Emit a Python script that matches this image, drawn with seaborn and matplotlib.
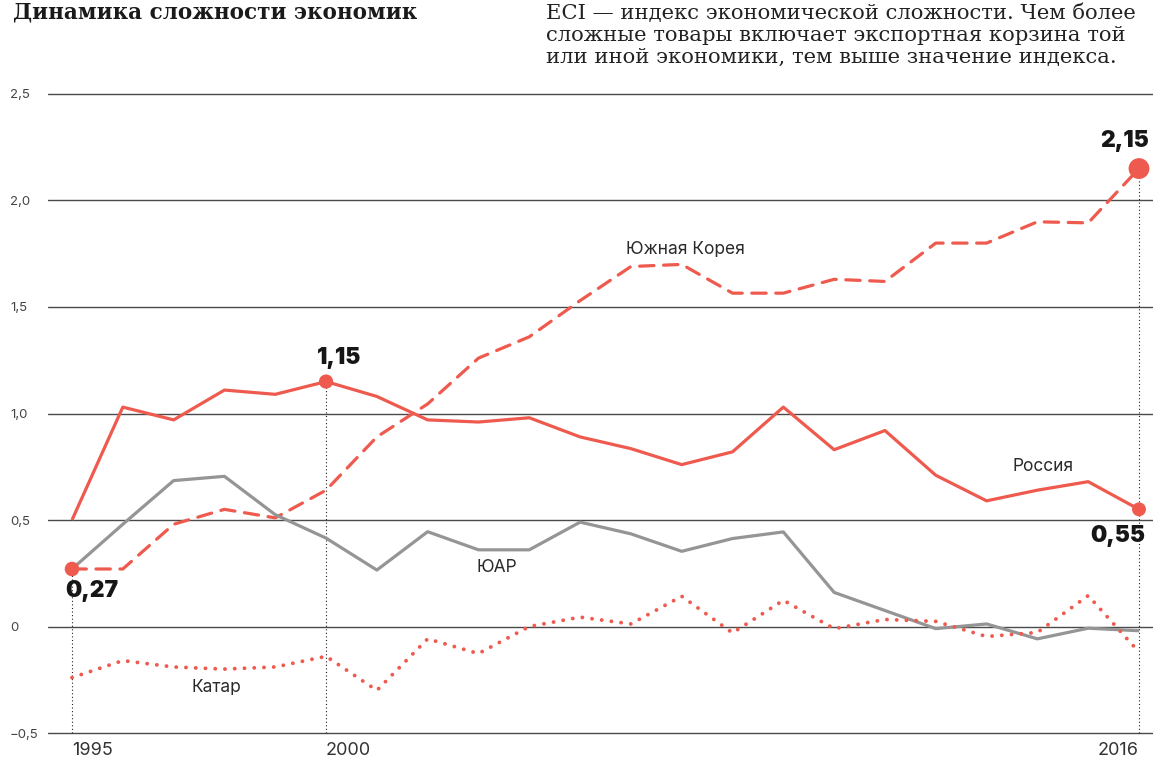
import numpy as np
import pandas as pd
import seaborn as sns
import matplotlib.pyplot as plt

# ---------------- data ----------------
years = list(range(1995, 2017))
countries = ["Россия", "Южная Корея", "ЮАР", "Катар"]
russia = [0.50, 1.03, 0.97, 1.11, 1.09, 1.15, 1.08, 0.97, 0.96, 0.98, 0.89,
          0.835, 0.76, 0.82, 1.03, 0.83, 0.92, 0.71, 0.59, 0.64, 0.68, 0.55]
korea = [0.27, 0.27, 0.48, 0.55, 0.51, 0.64, 0.89, 1.045, 1.26, 1.36, 1.53,
         1.69, 1.70, 1.565, 1.565, 1.63, 1.62, 1.80, 1.80, 1.90, 1.895, 2.15]
south_africa = [0.27, 0.48, 0.685, 0.705, 0.525, 0.415, 0.265, 0.445, 0.36, 0.36, 0.49,
                0.435, 0.353, 0.413, 0.444, 0.16, 0.075, -0.01, 0.012, -0.058, -0.008, -0.02]
qatar = [-0.24, -0.16, -0.19, -0.20, -0.19, -0.14, -0.30, -0.058, -0.127, 0.0, 0.044,
         0.012, 0.142, -0.03, 0.123, -0.01, 0.033, 0.024, -0.047, -0.028, 0.145, -0.12]

hl_years = [1995, 2000, 2016, 2016]
hl_values = [0.27, 1.15, 0.55, 2.15]
hl_labels = ["0,27", "1,15", "0,55", "2,15"]

y_ticks = [-0.5, 0, 0.5, 1.0, 1.5, 2.0, 2.5]
y_tick_labels = ["−0,5", "0", "0,5", "1,0", "1,5", "2,0", "2,5"]
x_ticks = [1995, 2000, 2016]
x_tick_labels = ["1995", "2000", "2016"]

title = "Динамика сложности экономик"
note_lines = ["ECI — индекс экономической сложности. Чем более",
              "сложные товары включает экспортная корзина той",
              "или иной экономики, тем выше значение индекса."]

# ---------------- style ----------------
RED = "#ef5a4f"
GRAY = "#959595"
sns.set_theme(style="white")
plt.rcParams["font.family"] = ["Inter", "DejaVu Sans"]

df = pd.DataFrame({
    "year": years * 4,
    "value": russia + korea + south_africa + qatar,
    "country": sum([[c] * len(years) for c in countries], []),
})

W, H = 1163, 757
fig = plt.figure(figsize=(W / 100, H / 100), dpi=100)
ax = fig.add_axes([48 / W, (H - 735) / H, (1153 - 48) / W, (735 - 92) / H])

palette = {"Россия": RED, "Южная Корея": RED, "ЮАР": GRAY, "Катар": RED}
dashes = {"Россия": "", "Южная Корея": (4.5, 3.0), "ЮАР": "", "Катар": (0.01, 2.5)}

sns.lineplot(data=df, x="year", y="value", hue="country", style="country",
             hue_order=countries, style_order=countries,
             palette=palette, dashes=dashes, linewidth=2.3,
             legend=False, sort=False, ax=ax, zorder=3)

for line in ax.lines:
    line.set_clip_on(False)
    line.set_dash_capstyle("round")
    line.set_solid_capstyle("butt")
ax.lines[3].set_linewidth(2.8)

ax.set_xlim(1995 - 24 / 50.81, 2016 + 14 / 50.81)
# a couple of pixels of margin so the outer gridlines are drawn
ax.set_ylim(-0.5 - 2 / 213.2, 2.5 + 2 / 213.2)
ax.set_yticks(y_ticks)
ax.set_yticklabels(y_tick_labels)
ax.set_xticks(x_ticks)
ax.set_xticklabels(x_tick_labels)
ax.grid(axis="y", color="#4a4a4a", linewidth=1.0)
ax.grid(axis="x", visible=False)
ax.set_axisbelow(True)
for s in ax.spines.values():
    s.set_visible(False)
ax.set_xlabel("")
ax.set_ylabel("")
ax.tick_params(axis="y", length=0, pad=27.4, labelsize=9.5, labelcolor="#444444")
ax.tick_params(axis="x", length=0, pad=5, labelsize=13, labelcolor="#333333")
for lbl in ax.get_yticklabels():
    lbl.set_horizontalalignment("left")
xl = ax.get_xticklabels()
xl[0].set_horizontalalignment("left")
xl[1].set_horizontalalignment("left")
xl[2].set_horizontalalignment("right")

# vertical dotted guides
ax.vlines(hl_years[:2] + [hl_years[3]], ymin=-0.5, ymax=[hl_values[0], hl_values[1], hl_values[3]],
          colors="#222222", linewidth=0.8, linestyles=(0, (1, 2.2)), zorder=2, clip_on=False)

# highlight points
ax.scatter(hl_years, hl_values, s=[110, 105, 100, 225], color=RED, zorder=5,
           clip_on=False, linewidths=0)

offsets = [(14.4, -15.8), (9.4, 16.6), (-15, -19.4), (-10, 20)]
for yr, v, t, off in zip(hl_years, hl_values, hl_labels, offsets):
    ax.annotate(t, (yr, v), xytext=off, textcoords="offset points",
                ha="center", va="center", fontsize=16.5, fontweight="black",
                color="#161616", family=["Inter", "DejaVu Sans"], zorder=6)

# series labels
label_pos = {"Южная Корея": (2007.07, 1.768), "Россия": (2014.11, 0.75),
             "ЮАР": (2003.37, 0.277), "Катар": (1997.85, -0.286)}
for c in countries:
    x, y = label_pos[c]
    ax.text(x, y, c, ha="center", va="center", fontsize=12.5, color="#2a2a2a")

# top texts
serif = ["DejaVu Serif", "Liberation Serif"]
fig.text(13 / W, 1 - 19 / H, title, ha="left", va="baseline", fontsize=15.5,
         fontweight="bold", family=serif, color="#1a1a1a")
for i, t in enumerate(note_lines):
    fig.text(546 / W, 1 - (19 + 22 * i) / H, t, ha="left", va="baseline", fontsize=15.2,
             family=serif, color="#222222")

fig.savefig("out.png", dpi=100)
